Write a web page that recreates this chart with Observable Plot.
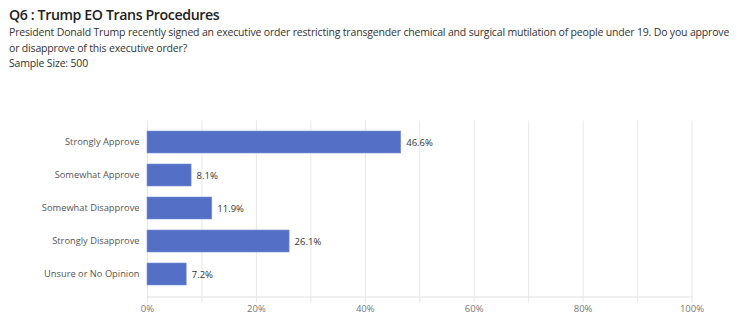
<!DOCTYPE html>
<html>
<head>
<meta charset="utf-8">
<script src="https://cdn.jsdelivr.net/npm/d3@7"></script>
<script src="https://cdn.jsdelivr.net/npm/@observablehq/plot@0.6"></script>
<style>
  html, body { margin: 0; padding: 0; background: #fff; }
  body { width: 738px; height: 334px; overflow: hidden; font-family: "Open Sans", sans-serif; }
  #header { height: 80px; padding-left: 9px; box-sizing: border-box; }
  #title { font-size: 14.2px; font-weight: 600; color: #222; padding-top: 5px; line-height: 20px; letter-spacing: -0.4px; }
  #subtitle { font-size: 10.5px; color: #333; line-height: 15.5px; width: 725px; letter-spacing: -0.17px; }
  #chart svg { display: block; }
</style>
</head>
<body>
<div id="header">
  <div id="title">Q6 : Trump EO Trans Procedures</div>
  <div id="subtitle">President Donald Trump recently signed an executive order restricting transgender chemical and surgical mutilation of people under 19. Do you approve or disapprove of this executive order?<br>Sample Size: 500</div>
</div>
<div id="chart"></div>
<script>
const categories = ["Strongly Approve", "Somewhat Approve", "Somewhat Disapprove", "Strongly Disapprove", "Unsure or No Opinion"];
const values = [46.6, 8.1, 11.9, 26.1, 7.2];
const gridValues = [0, 10, 20, 30, 40, 50, 60, 70, 80, 90, 100];
const tickLabels = [0, 20, 40, 60, 80, 100];

const data = categories.map((c, i) => ({category: c, value: values[i]}));

const chart = Plot.plot({
  width: 738,
  height: 254,
  marginTop: 40.5,
  marginBottom: 37.5,
  marginLeft: 147,
  marginRight: 46.5,
  style: {fontFamily: "Open Sans, sans-serif", background: "#fff"},
  x: {domain: [0, 100], axis: null, label: null},
  y: {domain: categories, padding: 0.325, axis: null, label: null},
  marks: [
    Plot.gridX(gridValues, {stroke: "#e8e8e8", strokeOpacity: 1, strokeWidth: 1}),
    Plot.axisX(gridValues, {tickSize: 6, text: null, label: null, stroke: "#e8e8e8", strokeOpacity: 1}),
    Plot.frame({anchor: "bottom", stroke: "#e0e0e0"}),
    Plot.barX(data, {y: "category", x: "value", fill: "#5470c6", stroke: "#7b92d6", strokeWidth: 0.6}),
    Plot.text(data, {y: "category", x: "value", text: d => d.value.toFixed(1) + "%", textAnchor: "start", dx: 5, fill: "#333", fontSize: 9.5}),
    Plot.text(categories, {y: d => d, frameAnchor: "left", textAnchor: "end", dx: -8, fill: "#555", fontSize: 9.3, letterSpacing: -0.1}),
    Plot.axisX(tickLabels, {tickSize: 0, tickPadding: 8, label: null, tickFormat: d => d + "%", fill: "#777", fontSize: 9.5})
  ]
});
document.getElementById("chart").appendChild(chart);
</script>
</body>
</html>
